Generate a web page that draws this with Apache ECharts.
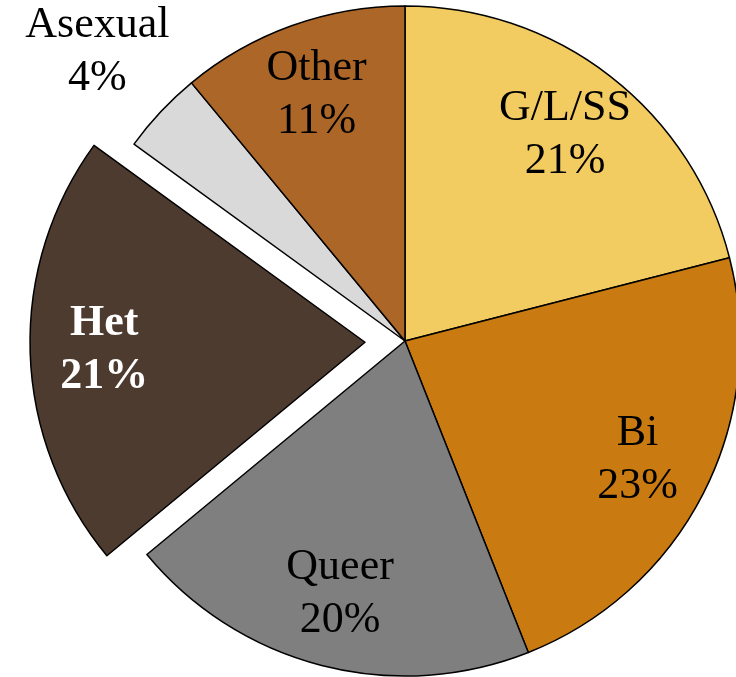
<!DOCTYPE html>
<html>
<head>
<meta charset="utf-8">
<script src="https://cdn.jsdelivr.net/npm/echarts@6/dist/echarts.min.js"></script>
<style>
  html, body { margin: 0; padding: 0; background: #fff; }
  #chart { width: 736px; height: 677px; }
</style>
</head>
<body>
<div id="chart"></div>
<script>
// slices, clockwise from 12 o'clock
const categories = ["G/L/SS", "Bi", "Queer", "Het", "Asexual", "Other"];
const shares = [21, 23, 20, 21, 4, 11];
const sliceColors = ["#F2CB61", "#C97B11", "#7F7F7F", "#4E3B30", "#D9D9D9", "#AC6628"];
const explodedName = "Het";
const outsideName = "Asexual";

const center = [405, 341];
const font = "'Liberation Serif', 'Times New Roman', serif";

const chart = echarts.init(document.getElementById("chart"));

// the coloured sectors
const sliceData = categories.map((name, i) => ({
  name: name,
  value: shares[i],
  selected: name === explodedName,
  itemStyle: { color: sliceColors[i] }
}));

// transparent ring only used to place the inside labels further out
const labelData = categories.map((name, i) => {
  const item = { name: name, value: shares[i], selected: name === explodedName };
  if (name === outsideName) item.label = { show: false };
  if (name === explodedName) item.label = { color: "#fff", fontWeight: "bold" };
  return item;
});

// outer ring for the one label that sits outside the pie
const outerData = categories.map((name, i) => ({
  name: name,
  value: shares[i],
  label: { show: name === outsideName }
}));

const labelStyle = {
  show: true,
  position: "inside",
  formatter: "{b}\n{c}%",
  fontFamily: font,
  fontSize: 44,
  lineHeight: 53,
  color: "#000"
};

const ghost = {
  type: "pie",
  center: center,
  startAngle: 90,
  clockwise: true,
  selectedMode: "multiple",
  selectedOffset: 40,
  silent: true,
  itemStyle: { color: "rgba(0,0,0,0)", borderWidth: 0 },
  emphasis: { disabled: true },
  labelLine: { show: false },
  label: labelStyle
};

chart.setOption({
  animation: false,
  backgroundColor: "#fff",
  series: [
    {
      type: "pie",
      center: center,
      radius: 335,
      startAngle: 90,
      clockwise: true,
      selectedMode: "multiple",
      selectedOffset: 40,
      silent: true,
      itemStyle: { borderColor: "#000", borderWidth: 1.5 },
      emphasis: { disabled: true },
      label: { show: false },
      labelLine: { show: false },
      data: sliceData
    },
    Object.assign({}, ghost, { radius: [181, 335], data: labelData }),
    Object.assign({}, ghost, { radius: [372, 466], selectedMode: false, data: outerData })
  ]
});
</script>
</body>
</html>
